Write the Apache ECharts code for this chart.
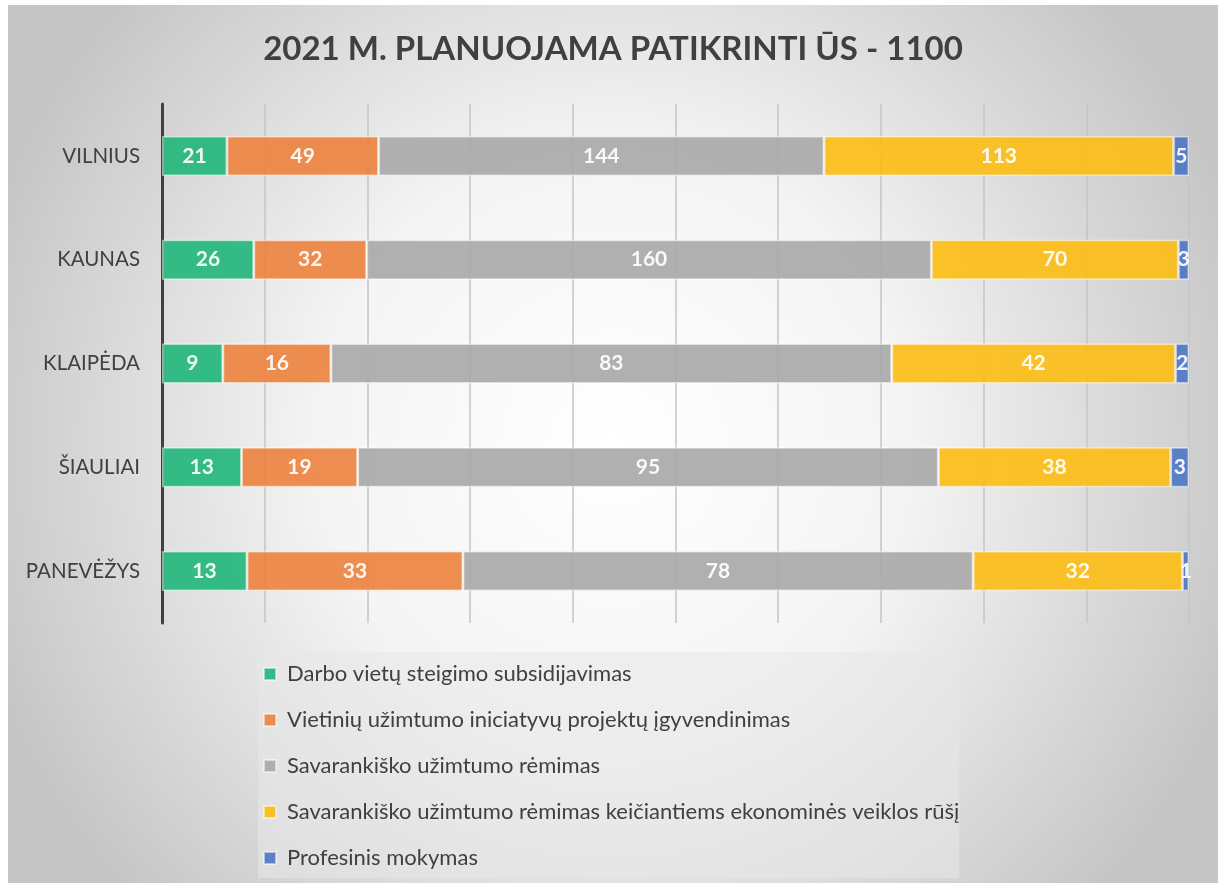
<!DOCTYPE html>
<html>
<head>
<meta charset="utf-8">
<script src="https://cdn.jsdelivr.net/npm/echarts@6/dist/echarts.min.js"></script>
<style>
    html, body { margin: 0; padding: 0; background: #ffffff; }
    #chart { position: absolute; left: 8px; top: 5px; width: 1210px; height: 878px; }
</style>
</head>
<body>
<div id="chart"></div>
<script>
    // regionai (iš viršaus į apačią)
    const cities = ['VILNIUS', 'KAUNAS', 'KLAIPĖDA', 'ŠIAULIAI', 'PANEVĖŽYS'];
    const seriesNames = [
        'Darbo vietų steigimo subsidijavimas',
        'Vietinių užimtumo iniciatyvų projektų įgyvendinimas',
        'Savarankiško užimtumo rėmimas',
        'Savarankiško užimtumo rėmimas keičiantiems ekonominės veiklos rūšį',
        'Profesinis mokymas'
    ];
    const subsidijavimas = [21, 26, 9, 13, 13];
    const iniciatyvos = [49, 32, 16, 19, 33];
    const savarankiskas = [144, 160, 83, 95, 78];
    const keiciantiems = [113, 70, 42, 38, 32];
    const profesinis = [5, 3, 2, 3, 1];
    const colors = ['#24B67D', '#EC8441', '#A9A9A9', '#FBBE17', '#4F77C5'];

    const rawSeries = [subsidijavimas, iniciatyvos, savarankiskas, keiciantiems, profesinis];

    // 100% stacked: each row is shown as share of its total
    let totals = cities.map((c, i) => rawSeries.reduce((s, arr) => s + arr[i], 0));

    let chart = echarts.init(document.getElementById('chart'));
    let font = 'Lato, "Open Sans", sans-serif';

    let series = rawSeries.map((arr, k) => ({
        name: seriesNames[k],
        type: 'bar',
        stack: 'total',
        barWidth: 40,
        itemStyle: {
            color: colors[k],
            opacity: 0.92,
            borderColor: 'rgba(255,255,255,0.55)',
            borderWidth: 1.5
        },
        label: {
            show: true,
            position: 'inside',
            color: '#ffffff',
            fontFamily: font,
            fontWeight: 'bold',
            fontSize: 21,
            formatter: p => arr[p.dataIndex]
        },
        data: arr.map((v, i) => v / totals[i] * 100)
    }));

    let option = {
        backgroundColor: {
            type: 'radial', x: 0.5, y: 0.5, r: 0.75,
            colorStops: [
                { offset: 0, color: '#ffffff' },
                { offset: 0.45, color: '#f4f4f4' },
                { offset: 1, color: '#c6c6c6' }
            ]
        },
        animation: false,
        title: {
            text: '2021 M. PLANUOJAMA PATIKRINTI ŪS - 1100',
            left: 'center',
            top: 23,
            textStyle: { fontFamily: font, fontWeight: 'bold', fontSize: 33, color: '#404040' }
        },
        grid: { left: 154, right: 29, top: 99, height: 519 },
        xAxis: {
            type: 'value',
            min: 0,
            max: 100,
            interval: 10,
            axisLabel: { show: false },
            axisLine: { show: false },
            axisTick: { show: false },
            splitLine: { lineStyle: { color: '#c4c4c4', width: 1.5 } }
        },
        yAxis: {
            type: 'category',
            inverse: true,
            data: cities,
            axisTick: { show: false },
            axisLine: { lineStyle: { color: '#404040', width: 3 } },
            axisLabel: { color: '#404040', fontFamily: font, fontSize: 20.5, margin: 22 }
        },
        legend: {
            orient: 'vertical',
            left: 250,
            top: 647,
            itemWidth: 12,
            itemHeight: 12,
            itemGap: 24,
            padding: [11, 0, 9, 5],
            backgroundColor: 'rgba(232,232,232,0.55)',
            icon: 'rect',
            data: seriesNames,
            textStyle: {
                color: '#404040',
                fontFamily: font,
                fontSize: 22,
                width: 690,
                overflow: 'truncate',
                ellipsis: '',
                padding: [0, 0, 0, 6]
            }
        },
        series: series
    };
    chart.setOption(option);
</script>
</body>
</html>
